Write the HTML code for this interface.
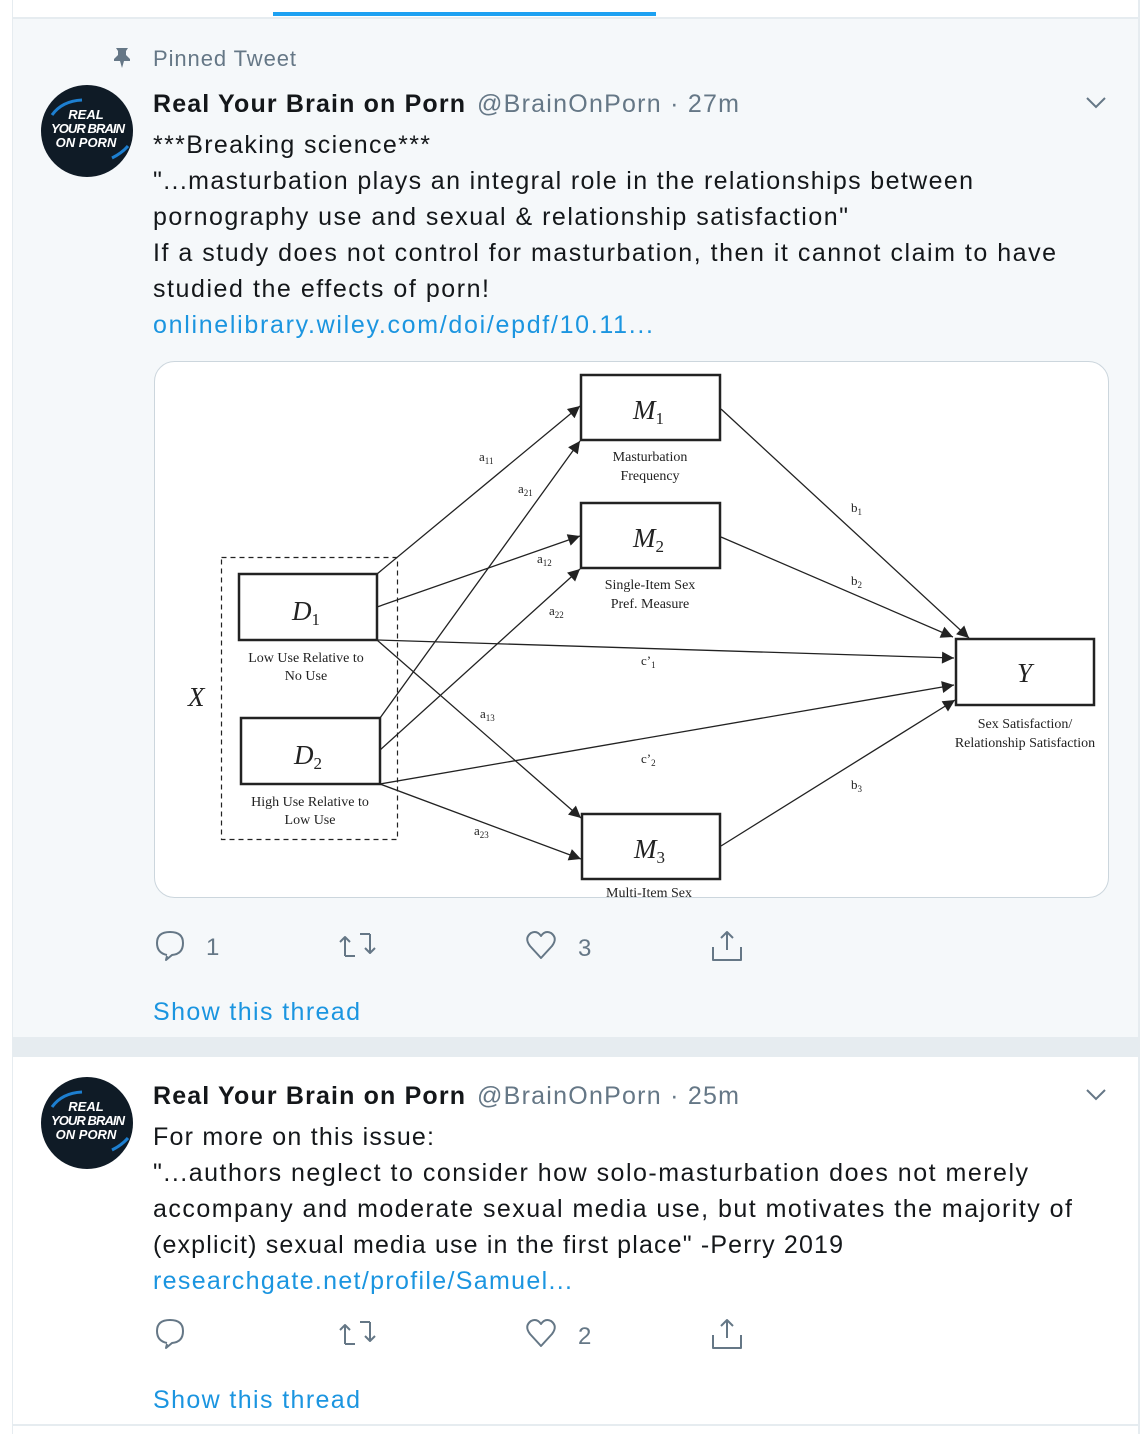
<!DOCTYPE html>
<html><head><meta charset="utf-8"><style>
html,body{margin:0;padding:0;background:#fff;}
svg{display:block;}
.t{font-family:"Liberation Sans",sans-serif;}
.s{font-family:"Liberation Serif",serif;fill:#222;}
</style></head><body>
<svg width="1148" height="1434" viewBox="0 0 1148 1434" xmlns="http://www.w3.org/2000/svg">
<defs>
<marker id="ah" viewBox="0 0 10 10" refX="10" refY="5" markerWidth="9" markerHeight="9" markerUnits="userSpaceOnUse" orient="auto"><path d="M0,0 L10,5 L0,10 z" fill="#222"/></marker>
<marker id="ah2" viewBox="0 0 10 10" refX="10" refY="5" markerWidth="14" markerHeight="12" markerUnits="userSpaceOnUse" orient="auto"><path d="M0,0 L10,5 L0,10 z" fill="#222"/></marker>
</defs>
<rect x="0" y="0" width="1148" height="1434" fill="#fff"/>
<!-- top area -->
<rect x="12" y="0" width="1" height="1434" fill="#e6ecf0"/>
<rect x="1138" y="0" width="2" height="1434" fill="#e6ecf0"/>
<rect x="273" y="12" width="383" height="4" fill="#1da1f2"/>
<!-- tweet 1 bg -->
<rect x="13" y="18" width="1125" height="1019" fill="#f5f8fa"/>
<rect x="13" y="17" width="1125" height="2" fill="#e6ecf0"/>
<rect x="13" y="1037" width="1125" height="20" fill="#e6ecf0"/>
<rect x="13" y="1424" width="1125" height="2" fill="#e6ecf0"/>

<!-- pinned -->
<path d="M116,48 h12 l-2,3 v4 l4,4 v2 h-6 l-2,7 l-2,-7 h-6 v-2 l4,-4 v-4 z" fill="#657786"/>
<text class="t" x="153" y="66" font-size="22" fill="#657786" textLength="143">Pinned Tweet</text>

<!-- avatar 1 -->
<g>
<circle cx="87" cy="131" r="46" fill="#0f1b26"/>
<path d="M52,115 q10,-14 30,-15" stroke="#1d7fd0" stroke-width="3" fill="none"/>
<path d="M112,158 q10,-5 16,-12" stroke="#1d7fd0" stroke-width="3" fill="none"/>
<text class="t" x="86" y="119" font-size="13" font-weight="bold" font-style="italic" fill="#fff" text-anchor="middle">REAL</text>
<text class="t" x="88" y="133" font-size="13" font-weight="bold" font-style="italic" fill="#fff" text-anchor="middle" textLength="74">YOUR BRAIN</text>
<text class="t" x="86" y="147" font-size="13" font-weight="bold" font-style="italic" fill="#fff" text-anchor="middle">ON PORN</text>
</g>

<text class="t" x="153" y="112" font-size="25" font-weight="bold" fill="#14171a" textLength="312">Real Your Brain on Porn</text>
<text class="t" x="477" y="112" font-size="25" fill="#657786" textLength="262">@BrainOnPorn · 27m</text>
<path d="M1087,98 l9,9 l9,-9" stroke="#657786" stroke-width="2" fill="none"/>

<g class="t" font-size="25" fill="#14171a">
<text x="153" y="153" textLength="277">***Breaking science***</text>
<text x="153" y="189" textLength="820">"...masturbation plays an integral role in the relationships between</text>
<text x="153" y="225" textLength="695">pornography use and sexual &amp; relationship satisfaction"</text>
<text x="153" y="261" textLength="903">If a study does not control for masturbation, then it cannot claim to have</text>
<text x="153" y="297" textLength="336">studied the effects of porn!</text>
<text x="153" y="333" fill="#1b95e0" textLength="500">onlinelibrary.wiley.com/doi/epdf/10.11...</text>
</g>

<!-- diagram card -->
<rect x="154.5" y="361.5" width="954" height="536" rx="20" ry="20" fill="#fff" stroke="#ccd6dd"/>
<g stroke="#222" fill="none">
<rect x="221.5" y="557.5" width="176" height="282" stroke-dasharray="5,4" stroke-width="1.2"/>
<g stroke-width="2.5">
<rect x="239" y="574" width="138" height="66"/>
<rect x="241" y="718" width="139" height="66"/>
<rect x="581" y="375" width="139" height="65"/>
<rect x="581" y="503" width="139" height="65"/>
<rect x="582" y="814" width="138" height="65"/>
<rect x="956" y="639" width="138" height="66"/>
</g>
<g stroke-width="1.3">
<line x1="377" y1="574" x2="580" y2="406" marker-end="url(#ah2)"/>
<line x1="380" y1="718" x2="580" y2="441" marker-end="url(#ah2)"/>
<line x1="377" y1="607" x2="580" y2="536" marker-end="url(#ah2)"/>
<line x1="380" y1="750" x2="580" y2="569" marker-end="url(#ah2)"/>
<line x1="377" y1="640" x2="954" y2="658" marker-end="url(#ah2)"/>
<line x1="380" y1="784" x2="954" y2="685" marker-end="url(#ah2)"/>
<line x1="377" y1="640" x2="581" y2="818" marker-end="url(#ah2)"/>
<line x1="380" y1="784" x2="581" y2="859" marker-end="url(#ah2)"/>
<line x1="721" y1="409" x2="969" y2="638" marker-end="url(#ah2)"/>
<line x1="721" y1="537" x2="953" y2="637" marker-end="url(#ah2)"/>
<line x1="721" y1="846" x2="955" y2="700" marker-end="url(#ah2)"/>
</g>
</g>
<g class="s" font-style="italic" font-size="27">
<text x="292" y="620">D<tspan font-size="17" font-style="normal" dy="5">1</tspan></text>
<text x="294" y="764">D<tspan font-size="17" font-style="normal" dy="5">2</tspan></text>
<text x="633" y="419">M<tspan font-size="17" font-style="normal" dy="5">1</tspan></text>
<text x="633" y="547">M<tspan font-size="17" font-style="normal" dy="5">2</tspan></text>
<text x="634" y="858">M<tspan font-size="17" font-style="normal" dy="5">3</tspan></text>
<text x="1017" y="682">Y</text>
<text x="188" y="706">X</text>
</g>
<g class="s" font-size="14" text-anchor="middle">
<text x="306" y="662">Low Use Relative to</text>
<text x="306" y="680">No Use</text>
<text x="310" y="806">High Use Relative to</text>
<text x="310" y="824">Low Use</text>
<text x="650" y="461">Masturbation</text>
<text x="650" y="480">Frequency</text>
<text x="650" y="589">Single-Item Sex</text>
<text x="650" y="608">Pref. Measure</text>
<text x="649" y="897">Multi-Item Sex</text>
<text x="1025" y="728">Sex Satisfaction/</text>
<text x="1025" y="747">Relationship Satisfaction</text>
</g>
<g class="s" font-size="13">
<text x="479" y="461">a<tspan font-size="9" dy="3">11</tspan></text>
<text x="518" y="493">a<tspan font-size="9" dy="3">21</tspan></text>
<text x="537" y="563">a<tspan font-size="9" dy="3">12</tspan></text>
<text x="549" y="615">a<tspan font-size="9" dy="3">22</tspan></text>
<text x="480" y="718">a<tspan font-size="9" dy="3">13</tspan></text>
<text x="474" y="835">a<tspan font-size="9" dy="3">23</tspan></text>
<text x="851" y="512">b<tspan font-size="9" dy="3">1</tspan></text>
<text x="851" y="585">b<tspan font-size="9" dy="3">2</tspan></text>
<text x="851" y="789">b<tspan font-size="9" dy="3">3</tspan></text>
<text x="641" y="665">c’<tspan font-size="9" dy="3">1</tspan></text>
<text x="641" y="763">c’<tspan font-size="9" dy="3">2</tspan></text>
</g>

<!-- actions tweet 1 -->
<g stroke="#657786" stroke-width="2" fill="none" stroke-linejoin="round">
<path d="M167,956 l-1,4 l6,-5 q11,-1 11,-12 q0,-11 -13,-11 q-13,0 -13,11 q0,10 10,12" />
<path d="M345,956 v-18 M340,942 l5,-5 l5,5 M345,956 h10 M370,934 v18 M365,948 l5,5 l5,-5 M370,934 h-10"/>
<path d="M541,958 l-11,-12 q-6,-8 1,-13 q6,-3 10,3 q4,-6 10,-3 q7,5 1,13 z"/>
<path d="M727,932 v18 M721,938 l6,-6 l6,6 M713,947 v13 h28 v-13"/>
</g>
<text class="t" x="206" y="955" font-size="24" fill="#657786">1</text>
<text class="t" x="578" y="956" font-size="24" fill="#657786">3</text>
<text class="t" x="153" y="1020" font-size="25" fill="#1b95e0" textLength="207">Show this thread</text>

<!-- tweet 2 -->
<g>
<circle cx="87" cy="1123" r="46" fill="#0f1b26"/>
<path d="M52,1107 q10,-14 30,-15" stroke="#1d7fd0" stroke-width="3" fill="none"/>
<path d="M112,1150 q10,-5 16,-12" stroke="#1d7fd0" stroke-width="3" fill="none"/>
<text class="t" x="86" y="1111" font-size="13" font-weight="bold" font-style="italic" fill="#fff" text-anchor="middle">REAL</text>
<text class="t" x="88" y="1125" font-size="13" font-weight="bold" font-style="italic" fill="#fff" text-anchor="middle" textLength="74">YOUR BRAIN</text>
<text class="t" x="86" y="1139" font-size="13" font-weight="bold" font-style="italic" fill="#fff" text-anchor="middle">ON PORN</text>
</g>
<text class="t" x="153" y="1104" font-size="25" font-weight="bold" fill="#14171a" textLength="312">Real Your Brain on Porn</text>
<text class="t" x="477" y="1104" font-size="25" fill="#657786" textLength="262">@BrainOnPorn · 25m</text>
<path d="M1087,1090 l9,9 l9,-9" stroke="#657786" stroke-width="2" fill="none"/>
<g class="t" font-size="25" fill="#14171a">
<text x="153" y="1145" textLength="281">For more on this issue:</text>
<text x="153" y="1181" textLength="875">"...authors neglect to consider how solo-masturbation does not merely</text>
<text x="153" y="1217" textLength="919">accompany and moderate sexual media use, but motivates the majority of</text>
<text x="153" y="1253" textLength="690">(explicit) sexual media use in the first place" -Perry 2019</text>
<text x="153" y="1289" fill="#1b95e0" textLength="419">researchgate.net/profile/Samuel...</text>
</g>
<g stroke="#657786" stroke-width="2" fill="none" stroke-linejoin="round">
<path d="M167,1344 l-1,4 l6,-5 q11,-1 11,-12 q0,-11 -13,-11 q-13,0 -13,11 q0,10 10,12" />
<path d="M345,1344 v-18 M340,1330 l5,-5 l5,5 M345,1344 h10 M370,1322 v18 M365,1336 l5,5 l5,-5 M370,1322 h-10"/>
<path d="M541,1346 l-11,-12 q-6,-8 1,-13 q6,-3 10,3 q4,-6 10,-3 q7,5 1,13 z"/>
<path d="M727,1320 v18 M721,1326 l6,-6 l6,6 M713,1335 v13 h28 v-13"/>
</g>
<text class="t" x="578" y="1344" font-size="24" fill="#657786">2</text>
<text class="t" x="153" y="1408" font-size="25" fill="#1b95e0" textLength="207">Show this thread</text>
</svg>
</body></html>
